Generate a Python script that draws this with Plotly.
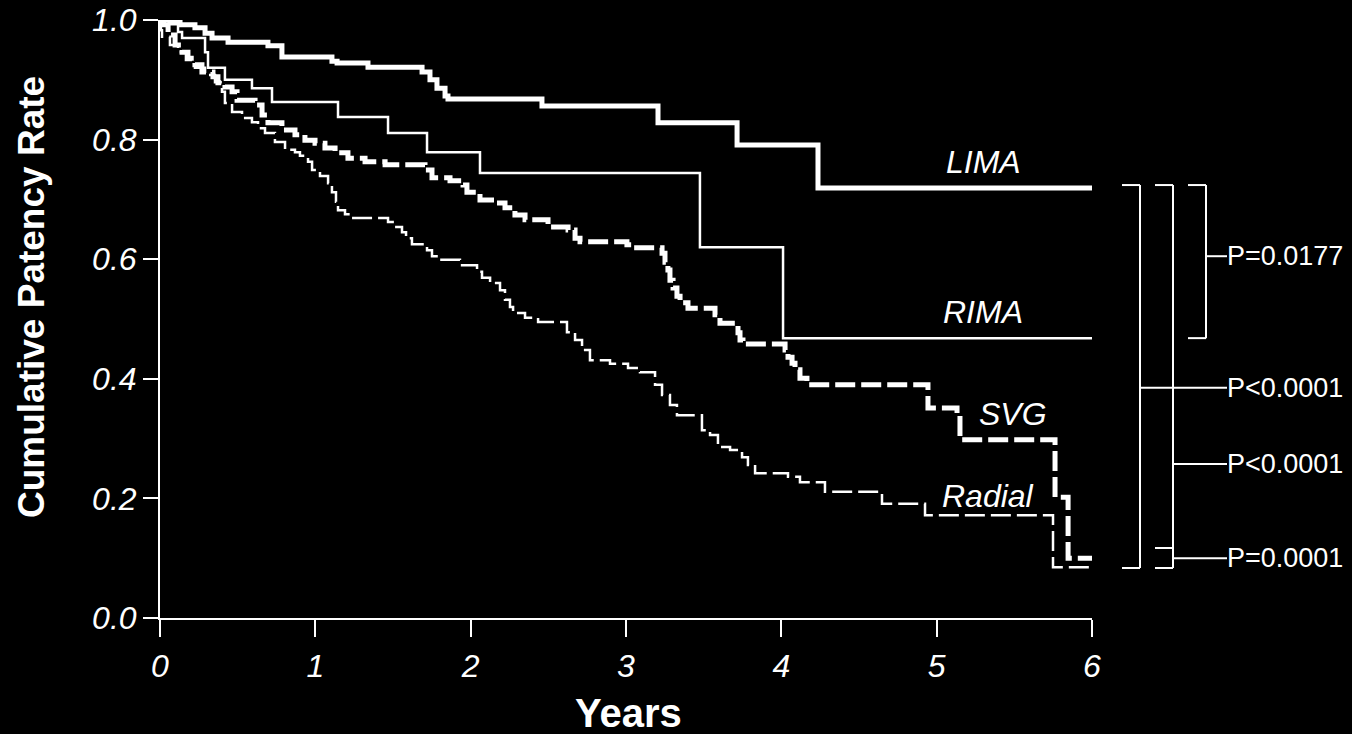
import plotly.graph_objects as go

# ---------------- data ----------------
lima_x = [0, 0.064, 0.129, 0.225, 0.290, 0.335, 0.438, 0.695, 0.785, 1.107, 1.140, 1.339,
          1.687, 1.738, 1.783, 1.835, 1.854, 2.459, 3.206, 3.715, 4.236, 6.0]
lima_y = [1.0, 0.997, 0.992, 0.987, 0.978, 0.970, 0.963, 0.957, 0.938, 0.931, 0.928, 0.921,
          0.913, 0.900, 0.886, 0.873, 0.868, 0.856, 0.828, 0.791, 0.719, 0.719]

rima_x = [0, 0.032, 0.116, 0.142, 0.290, 0.309, 0.418, 0.592, 0.721, 1.146, 1.468, 1.719,
          2.060, 3.476, 4.011, 6.0]
rima_y = [1.0, 0.993, 0.980, 0.970, 0.946, 0.920, 0.900, 0.886, 0.863, 0.838, 0.811, 0.779,
          0.744, 0.620, 0.468, 0.468]

svg_x = [0, 0.013, 0.052, 0.097, 0.142, 0.180, 0.225, 0.270, 0.341, 0.373, 0.418, 0.464,
         0.496, 0.612, 0.657, 0.695, 0.785, 0.869, 0.933, 0.998, 1.062, 1.127, 1.210, 1.320,
         1.449, 1.706, 1.751, 1.867, 1.951, 1.976, 2.060, 2.157, 2.221, 2.285, 2.350, 2.498,
         2.627, 2.672, 2.704, 3.006, 3.045, 3.232, 3.251, 3.270, 3.283, 3.303, 3.328, 3.348,
         3.399, 3.573, 3.605, 3.721, 3.734, 3.753, 4.024, 4.043, 4.069, 4.088, 4.120, 4.165,
         4.944, 5.131, 5.150, 5.762, 5.846, 6.0]
svg_y = [1.0, 0.992, 0.975, 0.958, 0.946, 0.936, 0.925, 0.913, 0.905, 0.895, 0.888, 0.880,
         0.866, 0.858, 0.841, 0.828, 0.816, 0.808, 0.799, 0.794, 0.786, 0.778, 0.769, 0.763,
         0.758, 0.749, 0.736, 0.731, 0.724, 0.712, 0.699, 0.694, 0.686, 0.674, 0.666, 0.654,
         0.649, 0.635, 0.629, 0.624, 0.619, 0.610, 0.595, 0.582, 0.565, 0.552, 0.538, 0.527,
         0.518, 0.507, 0.493, 0.477, 0.465, 0.458, 0.448, 0.436, 0.426, 0.415, 0.401, 0.390,
         0.351, 0.339, 0.298, 0.202, 0.100, 0.100]

radial_x = [0, 0.006, 0.013, 0.064, 0.116, 0.167, 0.225, 0.290, 0.354, 0.399, 0.418, 0.464,
            0.528, 0.592, 0.631, 0.676, 0.740, 0.805, 0.869, 0.901, 0.953, 0.979, 1.030, 1.082,
            1.107, 1.133, 1.146, 1.191, 1.223, 1.468, 1.513, 1.558, 1.584, 1.622, 1.719, 1.751,
            1.790, 1.931, 2.041, 2.073, 2.125, 2.189, 2.221, 2.253, 2.273, 2.350, 2.434, 2.620,
            2.672, 2.717, 2.768, 2.897, 3.013, 3.090, 3.187, 3.232, 3.283, 3.328, 3.489, 3.541,
            3.592, 3.670, 3.747, 3.785, 3.831, 4.043, 4.120, 4.281, 4.648, 4.925, 5.749, 6.0]
radial_y = [1.0, 0.983, 0.972, 0.958, 0.946, 0.933, 0.920, 0.908, 0.896, 0.880, 0.861, 0.846,
            0.836, 0.829, 0.819, 0.811, 0.796, 0.783, 0.779, 0.773, 0.763, 0.749, 0.739, 0.727,
            0.712, 0.696, 0.682, 0.675, 0.669, 0.662, 0.654, 0.645, 0.635, 0.625, 0.615, 0.605,
            0.599, 0.590, 0.579, 0.569, 0.560, 0.548, 0.532, 0.520, 0.510, 0.502, 0.495, 0.478,
            0.465, 0.448, 0.431, 0.425, 0.418, 0.411, 0.390, 0.373, 0.356, 0.339, 0.314, 0.306,
            0.286, 0.281, 0.269, 0.256, 0.242, 0.236, 0.227, 0.211, 0.191, 0.172, 0.085, 0.085]

series_names = ["LIMA", "RIMA", "SVG", "Radial"]
label_x = [5.30, 5.30, 5.49, 5.33]
label_y = [0.763, 0.512, 0.341, 0.204]

x_ticks = [0, 1, 2, 3, 4, 5, 6]
y_ticks = [0.0, 0.2, 0.4, 0.6, 0.8, 1.0]

# p-value brackets: (label, top y, bottom y, tick y, bracket column)
p_labels = ["P=0.0177", "P<0.0001", "P<0.0001", "P=0.0001"]
p_top = [0.724, 0.724, 0.724, 0.117]
p_bottom = [0.468, 0.0836, 0.117, 0.0836]
p_tick = [0.605, 0.385, 0.2575, 0.100]
p_col = [2, 0, 1, 1]

# ---------------- figure ----------------
FONT = "Liberation Sans, Arial, Helvetica, sans-serif"
W, H = 1352, 734
L, R, T, B = 160, 260, 20, 116
plot_w = W - L - R

fig = go.Figure()
styles = [
    dict(width=5, dash="solid"),
    dict(width=2.5, dash="solid"),
    dict(width=5, dash="20px,6px"),
    dict(width=2.5, dash="20px,6px"),
]
for name, xs, ys, st in zip(series_names, [lima_x, rima_x, svg_x, radial_x],
                            [lima_y, rima_y, svg_y, radial_y], styles):
    fig.add_trace(go.Scatter(x=xs, y=ys, mode="lines", name=name,
                             line=dict(color="white", shape="hv", **st),
                             cliponaxis=False, showlegend=False))

annotations = []
for name, lx, ly in zip(series_names, label_x, label_y):
    annotations.append(dict(x=lx, y=ly, xref="x", yref="y", text=name, showarrow=False,
                            font=dict(family=FONT, size=32, color="white", style="italic")))

def px2paper(px):
    return (px - L) / plot_w

col_right = [1140, 1173, 1206]
bracket_w = 18
tick_end = 1227
shapes = []
for lab, top, bot, tk, c in zip(p_labels, p_top, p_bottom, p_tick, p_col):
    xr = px2paper(col_right[c])
    xl = px2paper(col_right[c] - bracket_w)
    ln = dict(color="white", width=2)
    shapes.append(dict(type="line", xref="paper", yref="y", x0=xl, x1=xr, y0=top, y1=top, line=ln))
    shapes.append(dict(type="line", xref="paper", yref="y", x0=xr, x1=xr, y0=top, y1=bot, line=ln))
    shapes.append(dict(type="line", xref="paper", yref="y", x0=xl, x1=xr, y0=bot, y1=bot, line=ln))
    shapes.append(dict(type="line", xref="paper", yref="y", x0=xr, x1=px2paper(tick_end),
                       y0=tk, y1=tk, line=ln))
    annotations.append(dict(x=px2paper(tick_end), y=tk, xref="paper", yref="y", text=lab,
                            showarrow=False, xanchor="left", yanchor="middle", xshift=-2,
                            font=dict(family=FONT, size=27, color="white")))

# axis titles
annotations.append(dict(x=px2paper(31), y=(618 - 297) / 598, xref="paper", yref="paper",
                        text="<b>Cumulative Patency Rate</b>", textangle=-90, showarrow=False,
                        xanchor="center", yanchor="middle",
                        font=dict(family=FONT, size=37, color="white")))
annotations.append(dict(x=px2paper(628), y=(618 - 713) / 598, xref="paper", yref="paper",
                        text="<b>Years</b>", showarrow=False, xanchor="center", yanchor="middle",
                        font=dict(family=FONT, size=40, color="white")))

axis_common = dict(showgrid=False, zeroline=False, showline=True, linecolor="white", linewidth=2,
                   ticks="outside", tickcolor="white", tickwidth=2, automargin=False,
                   tickfont=dict(family=FONT, size=32, color="white", style="italic"))

fig.update_layout(
    width=W, height=H, autosize=False,
    margin=dict(l=L, r=R, t=T, b=B, pad=0, autoexpand=False),
    paper_bgcolor="black", plot_bgcolor="black",
    xaxis=dict(range=[0, 6], tickvals=x_ticks, ticktext=[str(v) for v in x_ticks],
               ticklen=17, ticklabelstandoff=2, **axis_common),
    yaxis=dict(range=[0, 1], tickvals=y_ticks, ticktext=[f"{v:.1f}" for v in y_ticks],
               ticklen=15, ticklabelstandoff=0, **axis_common),
    shapes=shapes,
    annotations=annotations,
)

fig.write_html("out.html", config={"displayModeBar": False},
               post_script="document.body.style.margin='0';document.body.style.background='black';"
                           "document.documentElement.style.overflow='hidden';")
